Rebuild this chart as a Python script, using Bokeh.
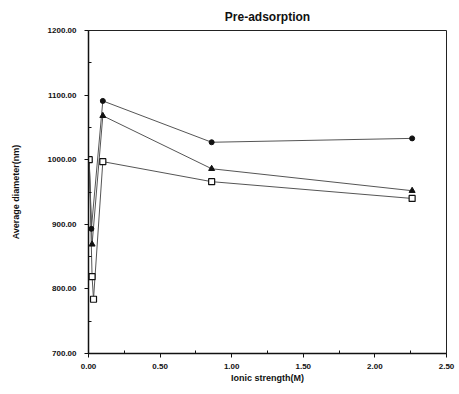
from bokeh.plotting import figure
from bokeh.models import Range1d, FixedTicker, NumeralTickFormatter
from bokeh.embed import file_html
from bokeh.resources import INLINE

# Data
x_circle = [0.005, 0.02, 0.1, 0.86, 2.26]
y_circle = [1000, 893, 1091, 1027, 1033]
x_tri = [0.005, 0.025, 0.1, 0.86, 2.26]
y_tri = [1000, 869, 1068, 986, 952]
x_sq = [0.005, 0.025, 0.035, 0.1, 0.86, 2.26]
y_sq = [1000, 819, 784, 997, 966, 940]

x_ticks = [0.0, 0.5, 1.0, 1.5, 2.0, 2.5]
y_ticks = [700, 800, 900, 1000, 1100, 1200]

FONT = "Liberation Sans"

p = figure(width=459, height=394, output_backend="svg", toolbar_location=None,
           x_range=Range1d(0, 2.5), y_range=Range1d(700, 1200),
           min_border_left=88, min_border_right=13, min_border_top=30, min_border_bottom=41,
           title="Pre-adsorption")
p.title.align = "center"
p.title.text_font = FONT
p.title.text_font_style = "bold"
p.title.text_font_size = "12px"
p.title.text_color = "#111111"
p.title.offset = 0
p.title.standoff = 13

p.grid.visible = False
p.outline_line_color = "#222222"
p.outline_line_width = 1
p.background_fill_color = "white"
p.border_fill_color = "white"

p.xaxis.ticker = FixedTicker(ticks=x_ticks, minor_ticks=[0.25, 0.75, 1.25, 1.75, 2.25])
p.yaxis.ticker = FixedTicker(ticks=y_ticks, minor_ticks=[750, 850, 950, 1050, 1150])
p.xaxis.formatter = NumeralTickFormatter(format="0.00")
p.yaxis.formatter = NumeralTickFormatter(format="0.00")

for ax in (p.xaxis[0], p.yaxis[0]):
    ax.axis_line_color = "#111111"
    ax.axis_line_width = 1.5
    ax.major_tick_line_color = "#111111"
    ax.minor_tick_line_color = "#111111"
    ax.major_tick_out = 4
    ax.major_tick_in = 0
    ax.minor_tick_out = 0
    ax.minor_tick_in = 3
    ax.major_label_text_font = FONT
    ax.major_label_text_font_style = "bold"
    ax.major_label_text_font_size = "8px"
    ax.major_label_text_color = "#111111"
    ax.axis_label_text_font = FONT
    ax.axis_label_text_font_style = "bold"
    ax.axis_label_text_font_size = "9px"
    ax.axis_label_text_color = "#111111"

p.xaxis.axis_label = "Ionic strength(M)"
p.yaxis.axis_label = "Average diameter(nm)"
p.xaxis.major_label_standoff = 6
p.xaxis.axis_label_standoff = 1
p.yaxis.major_label_standoff = 8
p.yaxis.axis_label_standoff = 24

line_col = "#555555"
p.line(x_circle, y_circle, line_color=line_col, line_width=1)
p.line(x_tri, y_tri, line_color=line_col, line_width=1)
p.line(x_sq, y_sq, line_color=line_col, line_width=1)

p.scatter(x_circle, y_circle, marker="circle", size=5, fill_color="#111111", line_color="#111111")
p.scatter(x_tri, y_tri, marker="triangle", size=6, fill_color="#111111", line_color="#111111")
p.scatter(x_sq, y_sq, marker="square", size=6, fill_color="white", line_color="#111111", line_width=1.2)

open("out.html", "w").write(file_html(p, INLINE))
